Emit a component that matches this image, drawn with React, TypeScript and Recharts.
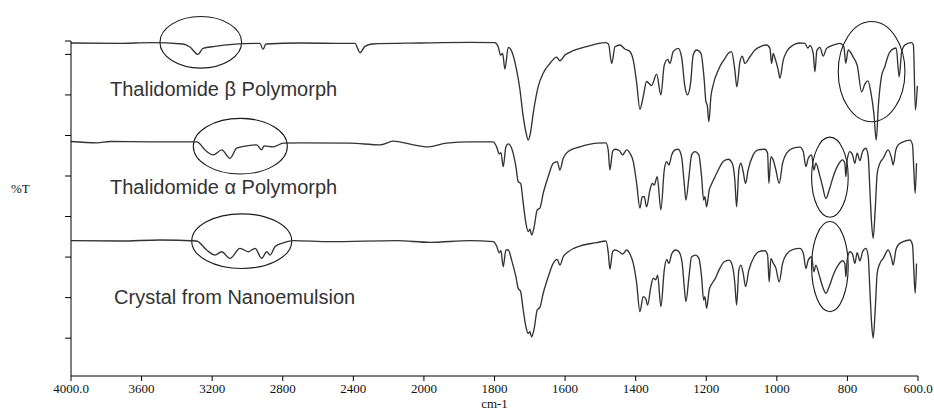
import React from 'react';
import { LineChart, Line, XAxis, YAxis, ReferenceArea, ReferenceDot } from 'recharts';

// Wavenumber axis: evenly spaced ticks, with the scale doubling below 2000 cm-1
const xTickWavenumbers = [4000, 3600, 3200, 2800, 2400, 2000, 1800, 1600, 1400, 1200, 1000, 800, 600];
const xTickLabels = ['4000.0', '3600', '3200', '2800', '2400', '2000', '1800', '1600', '1400', '1200', '1000', '800', '600.0'];
const yTicks = [11.3, 23.4, 35.5, 47.6, 59.7, 71.8, 83.9, 96.0, 100];

// Offset %T traces: [wavenumber cm-1, %T]
const betaSpectrum: [number, number][] = [
  [4000, 99.4], [3722, 99.3], [3552, 99.5], [3365, 99.1], [3326, 98.2], [3280, 96.0], [3252, 97.8], [3184, 98.4],
  [3082, 99.0], [3014, 99.2], [2929, 99.3], [2912, 97.5], [2895, 99.1], [2702, 99.4], [2476, 99.3], [2391, 99.3],
  [2362, 96.5], [2334, 98.4], [2294, 99.1], [2022, 99.4], [1870, 99.6], [1799, 99.5],
  [1789.5, 98.3], [1782.7, 95.8], [1777, 96.3], [1770.5, 91.6], [1761, 98.1], [1751.5, 97.0], [1737.3, 91.3],
  [1728.6, 86.0], [1718.6, 77.4], [1711, 72.8], [1704.5, 70.4], [1698.2, 72.5], [1690.3, 78.4], [1676.2, 86.4],
  [1662, 90.4], [1643, 93.3], [1624, 95.2], [1614.6, 94.1], [1600.5, 95.8], [1577, 97.1], [1539, 98.3], [1487, 99.5],
  [1477, 99.1], [1468, 93.3], [1458.5, 98.3], [1444.6, 98.8], [1430.4, 97.6], [1416, 96.8], [1406.8, 94.3],
  [1397, 87.4], [1388, 79.6], [1378.6, 83.4], [1369, 87.9], [1355, 86.7], [1340.6, 90.1], [1328.5, 83.9],
  [1319, 92.8], [1309.5, 94.5], [1303, 93.3], [1293.7, 96.8], [1279.6, 97.8], [1270, 95.3], [1260.5, 86.4],
  [1253, 83.9], [1244.4, 87.4], [1237, 95.8], [1227.3, 97.3], [1215, 96.3], [1205.8, 88.4], [1201, 81.9],
  [1197.3, 80.9], [1192.5, 75.9], [1186.8, 83.4], [1180.3, 86.9], [1166, 91.3], [1156.6, 93.3], [1147, 94.8],
  [1138, 96.3], [1128.3, 96.8], [1119, 91.3], [1113.3, 86.3], [1104.6, 93.8], [1098, 95.5], [1090.6, 93.3],
  [1076.3, 95.3], [1062, 97.3], [1043.2, 98.5], [1029, 98.8], [1019.6, 97.8], [1014.8, 93.3], [1010.3, 96.3],
  [1005.4, 94.9], [996, 91.3], [991.3, 88.9], [981.8, 94.3], [972.2, 96.8], [953.5, 98.8], [934.6, 99.4],
  [920.4, 99.3], [912, 97.9], [906.3, 98.7], [897, 96.4], [892.1, 90.8], [886.5, 97.2], [877.9, 98.1],
  [868.6, 95.5], [859, 97.8], [840.3, 98.8], [821.3, 99.3], [810, 98.3], [804.8, 93.4], [797.7, 97.3],
  [783.6, 95.2], [771.7, 92.5], [759.8, 84.8], [750.4, 87.2], [742, 88.1], [733.4, 84.6], [724.9, 78.2],
  [718.4, 70.4], [712.2, 80.9], [703.2, 89.6], [693.8, 92.4], [684.5, 95.7], [674.9, 97.3], [661.8, 97.9],
  [653.3, 89.3], [646.5, 96.6], [637.1, 98.8], [618.2, 99.5], [613.1, 98.8], [607.3, 79.4], [601.7, 86.6],
];

const alphaSpectrum: [number, number][] = [
  [4000, 70.0], [3853, 69.6], [3779, 70.0], [3552, 69.9], [3288, 69.9], [3231, 67.0], [3194, 66.0], [3146, 67.5],
  [3099, 65.0], [3061, 68.0], [3004, 68.7], [2948, 69.0], [2919, 67.5], [2906, 68.7], [2854, 68.4], [2797, 69.5],
  [2702, 69.6], [2419, 69.5], [2249, 69.0], [2174, 70.1], [2060, 69.0], [1988, 68.4], [1936, 69.5], [1870, 69.9],
  [1804, 69.9], [1794, 68.4], [1786.6, 66.3], [1781.8, 66.7], [1775.3, 62.5], [1767.7, 68.4], [1761, 69.3],
  [1751.5, 68.0], [1739.3, 62.5], [1732.8, 58.0], [1726, 57.5], [1718.6, 51.6], [1711, 45.6], [1704.5, 43.1],
  [1699.6, 43.8], [1694.8, 42.1], [1687.5, 44.6], [1679, 49.6], [1671.3, 50.1], [1662, 54.5], [1647.8, 59.5],
  [1633.6, 63.5], [1622.3, 64.0], [1614.6, 61.5], [1605.3, 65.0], [1591, 67.0], [1558, 68.4], [1510.7, 69.5],
  [1484.3, 69.6], [1477.8, 67.5], [1473, 61.5], [1465.3, 67.0], [1458.8, 67.7], [1446.6, 67.3], [1437, 66.0],
  [1425.6, 67.5], [1416.3, 66.5], [1406.8, 64.0], [1397.2, 57.5], [1388, 50.1], [1381.4, 53.5], [1375.7, 53.5],
  [1369, 50.5], [1359.6, 55.5], [1353, 57.5], [1347.5, 57.0], [1339, 59.5], [1328.5, 49.6], [1319, 61.5],
  [1312.3, 64.0], [1305.8, 63.0], [1298, 66.0], [1288.7, 67.5], [1279.4, 67.7], [1270, 65.5], [1262.4, 57.5],
  [1257.6, 52.5], [1249, 59.5], [1241.5, 66.0], [1232, 67.0], [1221, 66.0], [1213.2, 59.5], [1207.5, 52.5],
  [1203.8, 53.5], [1199, 50.5], [1191.6, 55.5], [1185, 57.3], [1177.4, 59.0], [1166, 61.5], [1152, 64.0],
  [1137.8, 64.7], [1126.4, 63.5], [1119, 58.5], [1114, 50.5], [1107.6, 61.5], [1101.9, 63.5], [1095.4, 61.0],
  [1088.6, 57.5], [1081.3, 61.5], [1067, 66.0], [1053, 67.5], [1034, 67.7], [1026.2, 66.5], [1022.5, 57.5],
  [1016.8, 65.5], [1010.3, 64.5], [1002.7, 61.5], [993.3, 57.5], [983.7, 63.5], [972.3, 66.5], [953.6, 68.0],
  [934.6, 68.3], [925.2, 67.0], [917.6, 62.5], [911, 65.0], [901.5, 66.0], [895, 61.5], [889.3, 63.5],
  [880, 60.5], [870.3, 56.5], [861, 53.0], [851.6, 55.5], [840.3, 59.5], [826.2, 63.0], [813.7, 64.5],
  [807.3, 63.5], [804.4, 59.5], [800.7, 64.5], [793, 67.0], [785.5, 66.0], [779, 63.5], [772.4, 66.5],
  [764.6, 64.3], [757, 67.0], [747.6, 68.0], [741, 65.5], [736.3, 55.5], [731.5, 45.6], [727, 41.1],
  [721.3, 49.6], [715.6, 60.5], [708, 63.5], [698.6, 65.0], [684.5, 67.5], [674.9, 65.0], [670.4, 63.0],
  [662.7, 67.5], [656.2, 69.0], [642.1, 69.9], [623.1, 70.4], [615.5, 69.0], [611.8, 61.5], [608.1, 54.5],
  [604.2, 63.5],
];

const nanoSpectrum: [number, number][] = [
  [4000, 40.4], [3722, 40.3], [3496, 40.6], [3288, 40.3], [3231, 37.6], [3184, 36.1], [3146, 37.1], [3099, 35.1],
  [3042, 38.1], [2995, 37.1], [2957, 38.1], [2919, 35.1], [2891, 37.1], [2872, 36.1], [2844, 38.6], [2806, 39.6],
  [2740, 40.4], [2532, 40.1], [2154, 40.4], [1983, 39.9], [1870, 40.4], [1804, 40.1],
  [1794, 38.8], [1786.6, 36.8], [1781.8, 37.4], [1775.3, 32.6], [1767.7, 37.6], [1761, 37.6], [1751.5, 34.6],
  [1739.3, 29.6], [1732.8, 26.2], [1726, 25.2], [1718.6, 19.7], [1711, 14.7], [1704.5, 12.7], [1699.6, 13.2],
  [1694.8, 11.7], [1687.5, 14.2], [1679, 19.7], [1671.3, 20.5], [1662, 24.7], [1647.8, 29.6], [1633.6, 33.6],
  [1622.3, 34.8], [1614.6, 33.1], [1605.3, 35.6], [1591, 37.1], [1558, 38.8], [1510.7, 39.8], [1484.3, 40.3],
  [1477.8, 37.0], [1473, 31.9], [1465.3, 37.1], [1458.8, 37.6], [1446.6, 37.1], [1437, 36.4], [1425.6, 37.6],
  [1416.3, 36.4], [1406.8, 33.6], [1397.2, 27.7], [1388, 19.2], [1378.6, 23.7], [1371.8, 23.2], [1366.2, 21.2],
  [1356.8, 26.7], [1350.3, 29.2], [1343.5, 28.7], [1337.8, 30.1], [1328.5, 20.7], [1319, 31.6], [1312.3, 34.8],
  [1305.8, 33.6], [1298, 36.4], [1286.8, 37.6], [1277.5, 37.1], [1268.1, 33.6], [1262.4, 26.7], [1257.6, 22.2],
  [1249, 29.6], [1241.5, 35.6], [1230, 36.1], [1220.8, 35.1], [1213.2, 29.6], [1207.5, 22.7], [1203.8, 23.7],
  [1199, 20.2], [1191.6, 25.7], [1183, 27.7], [1175.4, 28.9], [1164, 31.6], [1149, 34.1], [1135.7, 34.6],
  [1126.4, 33.1], [1119, 27.7], [1114, 21.2], [1107.6, 31.6], [1101.9, 33.1], [1095.4, 30.7], [1088.6, 26.7],
  [1079.3, 31.6], [1064.3, 35.6], [1051, 37.1], [1034, 37.4], [1026.2, 36.1], [1021.7, 28.1], [1016.8, 35.1],
  [1010.3, 33.7], [1002.7, 32.2], [993.3, 28.1], [983.7, 33.6], [972.3, 36.4], [953.6, 37.8], [934.6, 38.1],
  [925.2, 36.8], [917.6, 32.1], [911, 34.6], [901.5, 35.6], [895, 31.1], [889.3, 33.1], [880, 30.1],
  [870.3, 26.7], [861, 24.7], [851.6, 26.7], [840.3, 30.1], [826.2, 33.1], [813.7, 34.4], [807.3, 33.6],
  [804.4, 29.6], [800.7, 34.6], [793, 37.1], [785.5, 36.4], [779, 33.6], [772.4, 36.8], [764.6, 34.4],
  [757, 37.1], [747.6, 38.1], [741, 35.6], [736.3, 25.7], [731.5, 15.7], [727, 11.3], [721.3, 19.7],
  [715.6, 30.7], [708, 33.6], [698.6, 35.1], [684.5, 37.6], [674.9, 35.1], [670.4, 33.1], [662.7, 37.6],
  [656.2, 39.1], [642.1, 40.1], [623.1, 40.6], [615.5, 39.1], [611.8, 31.6], [608.1, 24.7], [604.2, 33.6],
];

// Highlighted regions: [wn from, wn to, %T low, %T high]
const highlightRegions: [number, number, number, number][] = [
  [3496, 3033, 91.9, 107.3],
  [3307, 2774, 60.3, 76.9],
  [3316, 2749, 32.1, 48.4],
  [826, 637, 75.9, 105.8],
  [901.5, 797.8, 47.4, 71.3],
  [901.5, 797.8, 19.2, 46.1],
];

// Trace captions: [text, wn at left edge, %T at baseline]
const traceLabels: [string, number, number][] = [
  ['Thalidomide β Polymorph', 3779, 83.6],
  ['Thalidomide α Polymorph', 3779, 54.2],
  ['Crystal from Nanoemulsion', 3756, 21.4],
];

// Map a wavenumber onto the evenly spaced tick positions (piecewise linear)
function toAxisPos(wn: number): number {
  const w = xTickWavenumbers;
  for (let i = 0; i < w.length - 1; i++) {
    if (wn <= w[i] && wn >= w[i + 1]) {
      return i + (w[i] - wn) / (w[i] - w[i + 1]);
    }
  }
  return wn > w[0] ? 0 : w.length - 1;
}

const toSeries = (s: [number, number][]) => s.map(([wn, t]) => ({ pos: toAxisPos(wn), t }));

const series = [toSeries(betaSpectrum), toSeries(alphaSpectrum), toSeries(nanoSpectrum)];
const tickPositions = xTickWavenumbers.map((_, i) => i);

const serif = '"Liberation Serif", "Times New Roman", serif';
const sans = '"Liberation Sans", Arial, sans-serif';
const traceColor = '#333333';

const Ellipse = (p: any) => {
  const { x, y, width, height } = p;
  return (
    <ellipse
      cx={x + width / 2}
      cy={y + height / 2}
      rx={Math.abs(width) / 2}
      ry={Math.abs(height) / 2}
      fill="none"
      stroke="#1a1a1a"
      strokeWidth={1.1}
    />
  );
};

// Y ticks carry no labels, only the tick marks
const NoLabel = () => <g />;

export default function App() {
  return (
    <div style={{ position: 'absolute', left: 0, top: 0, width: 934, height: 410, background: '#fff' }}>
      <LineChart width={934} height={410} margin={{ top: 41, right: 16, bottom: 0, left: 11 }}>
        <XAxis
          type="number"
          dataKey="pos"
          domain={[0, xTickWavenumbers.length - 1]}
          ticks={tickPositions}
          tickFormatter={(v: number) => xTickLabels[Math.round(v)]}
          interval={0}
          height={34}
          tickSize={5}
          tickMargin={3}
          axisLine={{ stroke: '#000', strokeWidth: 1 }}
          tickLine={{ stroke: '#000', strokeWidth: 1 }}
          tick={{ fill: '#111', fontSize: 13, fontFamily: serif }}
          allowDataOverflow
          label={{ value: 'cm-1', position: 'insideBottom', offset: 2, fill: '#111', fontSize: 13, fontFamily: serif }}
        />
        <YAxis
          type="number"
          domain={[0, 100]}
          ticks={yTicks}
          interval={0}
          width={60}
          tickSize={6}
          tick={NoLabel}
          axisLine={{ stroke: '#000', strokeWidth: 1 }}
          tickLine={{ stroke: '#000', strokeWidth: 1 }}
          allowDataOverflow
          label={{ value: '%T', position: 'insideLeft', offset: 0, dy: -20, fill: '#111', fontSize: 13, fontFamily: serif }}
        />
        {series.map((d, i) => (
          <Line
            key={i}
            data={d}
            dataKey="t"
            type="monotone"
            stroke={traceColor}
            strokeWidth={1.35}
            dot={false}
            activeDot={false}
            isAnimationActive={false}
          />
        ))}
        {highlightRegions.map(([w1, w2, t1, t2], i) => (
          <ReferenceArea
            key={'r' + i}
            x1={toAxisPos(w1)}
            x2={toAxisPos(w2)}
            y1={t1}
            y2={t2}
            ifOverflow="visible"
            shape={Ellipse}
          />
        ))}
        {traceLabels.map(([text, wn, t], i) => (
          <ReferenceDot
            key={'l' + i}
            x={toAxisPos(wn)}
            y={t}
            r={0}
            ifOverflow="visible"
            shape={(p: any) => (
              <text x={p.cx} y={p.cy} fill="#333" fontSize={20} fontFamily={sans}>
                {text}
              </text>
            )}
          />
        ))}
      </LineChart>
    </div>
  );
}
